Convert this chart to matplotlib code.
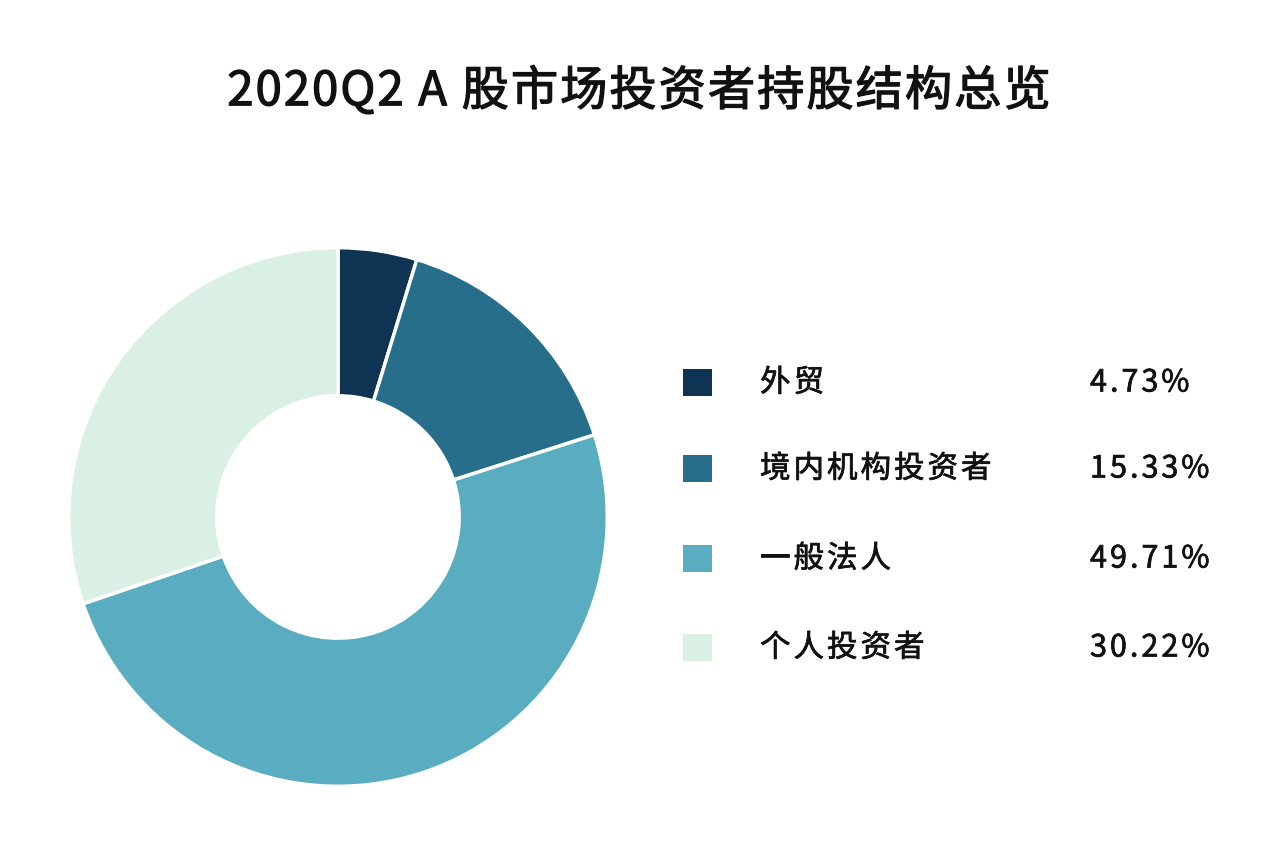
import matplotlib.pyplot as plt
import matplotlib.patheffects as pe
from matplotlib.patches import Rectangle

plt.rcParams['font.family'] = ['Noto Sans CJK SC', 'DejaVu Sans']

title = '2020Q2 A 股市场投资者持股结构总览'
labels = ['外贸', '境内机构投资者', '一般法人', '个人投资者']
values = [4.73, 15.33, 49.71, 30.22]
colors = ['#0f3453', '#266e89', '#5aadc1', '#dbf0e5']

W, H = 1280, 866
fig = plt.figure(figsize=(W / 100, H / 100), dpi=100)
fig.patch.set_facecolor('white')
renderer = fig.canvas.get_renderer()


def spaced_text(x, y, s, size, gap, ha='left', thick=0.0, **kw):
    # draw text char by char with extra letter spacing (pixel coords, y from top)
    widths = []
    for ch in s:
        t = fig.text(0, 0, ch, fontsize=size, **kw)
        widths.append(t.get_window_extent(renderer).width)
        t.remove()
    total = sum(widths) + gap * (len(s) - 1)
    if ha == 'center':
        x0 = x - total / 2
    elif ha == 'right':
        x0 = x - total
    else:
        x0 = x
    effects = [pe.withStroke(linewidth=thick, foreground='#111111')] if thick else None
    for ch, w in zip(s, widths):
        fig.text(x0 / W, 1 - y / H, ch, fontsize=size, ha='left', va='center',
                 path_effects=effects, **kw)
        x0 += w + gap


# donut
cx, cy, r = 338, 517, 272
ax = fig.add_axes([(cx - r) / W, (H - cy - r) / H, 2 * r / W, 2 * r / H])
ax.pie(values, colors=colors, startangle=90, counterclock=False, radius=1,
       wedgeprops=dict(width=0.55, edgecolor='white', linewidth=2.5))
ax.set_xlim(-1.01, 1.01)
ax.set_ylim(-1.01, 1.01)
ax.set_aspect('equal')
ax.axis('off')

spaced_text(639, 92, title, 34, 2.0, ha='center', thick=0.9, color='#111111')

# legend
row_y = [383, 469, 559, 648]
for lab, val, col, y in zip(labels, values, colors, row_y):
    fig.patches.append(Rectangle((683 / W, 1 - (y + 13) / H), 29 / W, 27 / H,
                                 transform=fig.transFigure, facecolor=col,
                                 edgecolor='none'))
    spaced_text(760, y, lab, 22, 3, thick=0.5, color='#111111')
    spaced_text(1090, y, f'{val:.2f}%', 22, 3, thick=0.5, color='#111111')

fig.savefig('out.png', dpi=100, facecolor='white')
